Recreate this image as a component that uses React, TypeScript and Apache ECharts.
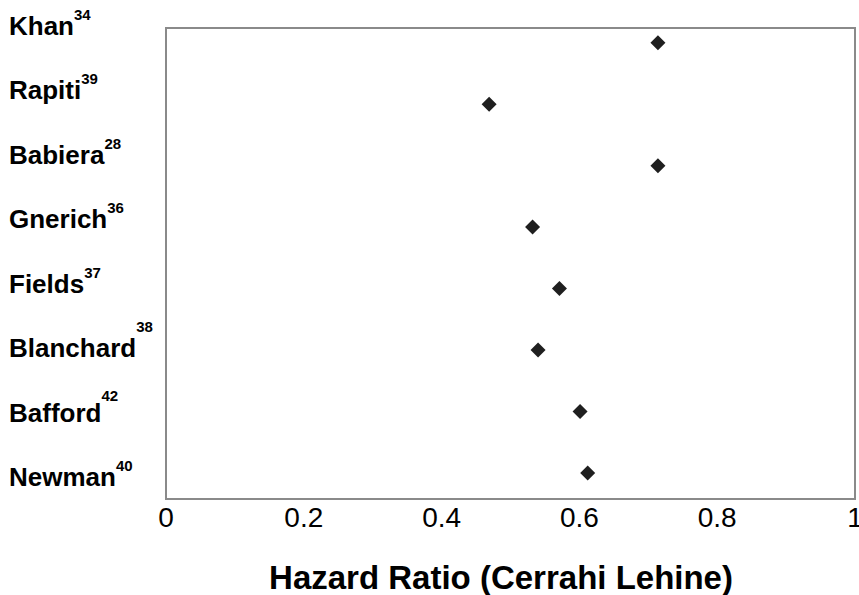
import React, { useEffect, useRef } from "react";
import * as echarts from "echarts";

const studies = ["Khan", "Rapiti", "Babiera", "Gnerich", "Fields", "Blanchard", "Bafford", "Newman"];
const refNumbers = ["34", "39", "28", "36", "37", "38", "42", "40"];
const hazardRatios = [0.714, 0.469, 0.714, 0.532, 0.571, 0.54, 0.601, 0.612];
const xTicks = [0, 0.2, 0.4, 0.6, 0.8, 1];
const xTitle = "Hazard Ratio (Cerrahi Lehine)";

const FONT = "'Liberation Sans', Arial, Helvetica, sans-serif";

// how high each superscript sits (style only)
const nameStyleOf: Record<string, string> = { Blanchard: "nHi", Bafford: "nMid" };

export default function App() {
  const ref = useRef<HTMLDivElement>(null);
  useEffect(() => {
    if (!ref.current) return;
    const chart = echarts.init(ref.current, undefined, { renderer: "svg" });
    const nameBase = { fontSize: 26, fontWeight: "bold" as const, color: "#000", fontFamily: FONT };
    const option: any = {
      animation: false,
      backgroundColor: "#fff",
      grid: [
        { left: 166, top: 28, right: 4, bottom: 96, show: true, borderColor: "#8a8a8a", borderWidth: 2, backgroundColor: "transparent", containLabel: false, outerBoundsMode: "none" },
        { left: 166, top: 26, right: 4, height: 451, show: false, containLabel: false, outerBoundsMode: "none" },
      ],
      xAxis: [
        {
          gridIndex: 0,
          type: "value",
          min: xTicks[0],
          max: xTicks[xTicks.length - 1],
          interval: xTicks[1] - xTicks[0],
          axisLine: { show: false },
          axisTick: { show: false },
          splitLine: { show: false },
          axisLabel: { fontSize: 28, color: "#000", fontFamily: FONT, margin: 4, showMaxLabel: true, showMinLabel: true, hideOverlap: false },
        },
        { gridIndex: 1, type: "value", show: false },
      ],
      yAxis: [
        { gridIndex: 0, type: "value", min: 0.577, max: 8.239, show: false },
        {
          gridIndex: 1,
          type: "category",
          inverse: true,
          boundaryGap: false,
          data: studies,
          axisLine: { show: false },
          axisTick: { show: false },
          splitLine: { show: false },
          axisLabel: {
            interval: 0,
            align: "left",
            margin: 157,
            formatter: (v: string) => {
              const i = studies.indexOf(v);
              const st = nameStyleOf[v] || "n";
              return `{${st}|${v}}{sup|${refNumbers[i]}}`;
            },
            rich: {
              n: { ...nameBase, padding: [6, 0, 6, 0] },
              nMid: { ...nameBase, padding: [12, 0, 12, 0] },
              nHi: { ...nameBase, padding: [16, 0, 16, 0] },
              sup: { fontSize: 15, fontWeight: "bold", color: "#000", fontFamily: FONT, verticalAlign: "top" },
            },
          },
        },
      ],
      series: [
        {
          type: "scatter",
          xAxisIndex: 0,
          yAxisIndex: 0,
          symbol: "diamond",
          symbolSize: 15,
          itemStyle: { color: "#1f1f1f", opacity: 1 },
          data: studies.map((s, i) => [hazardRatios[i], studies.length - i]),
        },
      ],
      graphic: [
        {
          type: "text",
          x: 501,
          y: 577,
          style: {
            text: xTitle,
            fontSize: 33,
            fontWeight: "bold",
            fill: "#000",
            fontFamily: FONT,
            textAlign: "center",
            textVerticalAlign: "middle",
          },
        },
      ],
    };
    chart.setOption(option);
    return () => chart.dispose();
  }, []);
  return <div ref={ref} style={{ position: "fixed", left: 0, top: 0, width: 859, height: 595 }} />;
}
